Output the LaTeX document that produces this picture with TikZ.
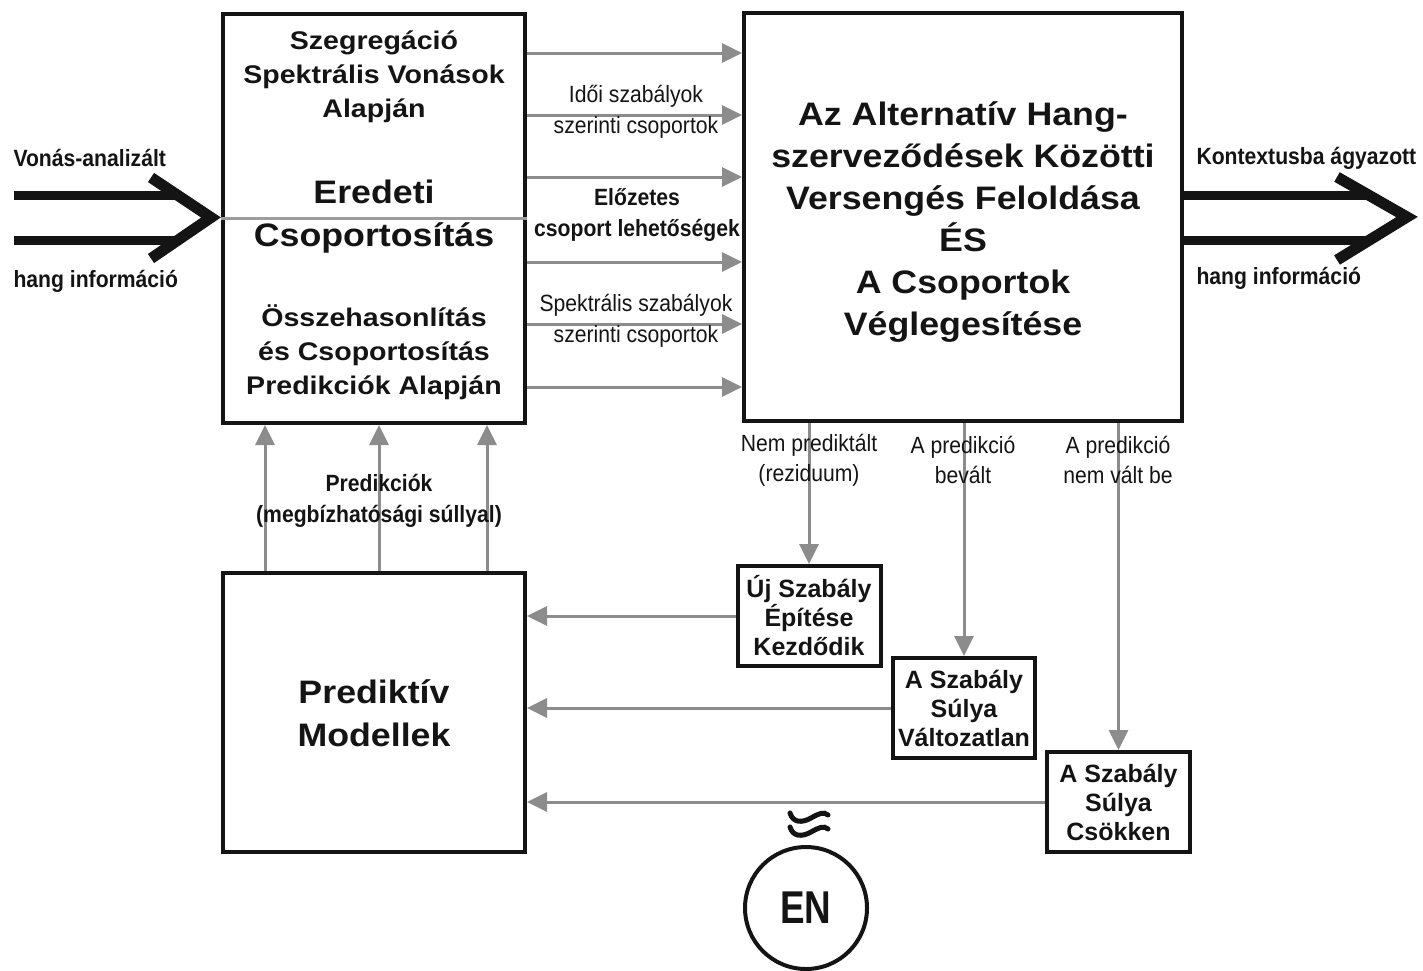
\documentclass[tikz,border=0pt]{standalone}
\usepackage{fontspec}
\setmainfont{Liberation Sans}
\newfontfamily\widesans[FakeStretch=1.1]{Liberation Sans}
\newfontfamily\midsans[FakeStretch=1.12]{Liberation Sans}
\newfontfamily\narrowsans[FakeStretch=0.9]{Liberation Sans}
\newfontfamily\ensans[FakeStretch=0.8]{Liberation Sans}
\usetikzlibrary{arrows.meta,calc}
\definecolor{ink}{HTML}{141414}
\definecolor{arrgray}{HTML}{8C8C8C}
\tikzset{
  blk/.style={draw=ink, line width=4pt, inner sep=0pt},
  garrow/.style={draw=arrgray, line width=3pt, -{Triangle[length=20pt,width=19pt]}},
  gline/.style={draw=arrgray, line width=3pt},
  fatline/.style={draw=ink, line width=9pt},
  chevron/.style={draw=ink, line width=11pt, line join=miter},
  wavestroke/.style={draw=ink, line width=5pt, line cap=round},
  bigtxt/.style={font={\widesans\bfseries\fontsize{32.5}{42}\selectfont}, align=center, text=ink},
  midtxt/.style={font={\midsans\bfseries\fontsize{25.5}{34}\selectfont}, align=center, text=ink},
  boxtxt/.style={font={\bfseries\fontsize{25}{29}\selectfont}, align=center, text=ink},
  lbl/.style={font={\narrowsans\fontsize{23.5}{31}\selectfont}, align=center, text=ink},
  blbl/.style={font={\narrowsans\bfseries\fontsize{23.5}{31}\selectfont}, align=center, text=ink},
}
\begin{document}
\begin{tikzpicture}[x=1pt, y=-1pt]
\useasboundingbox (0,0) rectangle (1423,970);

% main blocks
\node[blk, minimum width=302pt, minimum height=409pt] (grp) at (374,218.5) {};
\node[blk, minimum width=438pt, minimum height=408pt] (res) at (963,217) {};
\node[blk, minimum width=302pt, minimum height=279pt] (pm) at (374,712.5) {};

% rule outcome boxes
\node[blk, boxtxt, minimum width=143pt, minimum height=100pt] (b1) at (809,616) {Új Szabály\\Építése\\Kezdődik};
\node[blk, boxtxt, minimum width=142pt, minimum height=100pt] (b2) at (964,708) {A Szabály\\Súlya\\Változatlan};
\node[blk, boxtxt, minimum width=143pt, minimum height=100pt] (b3) at (1118.5,802) {A Szabály\\Súlya\\Csökken};

% texts of the blocks
\draw[gline, draw=arrgray!85] (grp.west) -- (grp.east);
\node[midtxt] (segr) at (374,77) {Szegregáció\\Spektrális Vonások\\Alapján};
\node[bigtxt, font={\widesans\bfseries\fontsize{32.5}{43}\selectfont}] (orig) at (374,217) {Eredeti\\Csoportosítás};
\node[midtxt] (comp) at (374,352) {Összehasonlítás\\és Csoportosítás\\Predikciók Alapján};
\node[bigtxt] (restxt) at (963,222) {Az Alternatív Hang-\\szerveződések Közötti\\Versengés Feloldása\\ÉS\\A Csoportok\\Véglegesítése};
\node[bigtxt, font={\widesans\bfseries\fontsize{32.5}{43}\selectfont}] (pmtxt) at (374,713) {Prediktív\\Modellek};

% grouping streams from left block to right block
\foreach \yy in {53,115,177,262,324,387}
  \draw[garrow] (grp.east |- 0,\yy) -- (res.west |- 0,\yy);
\node[lbl] (tl) at (636,111.5) {Idői szabályok\\szerinti csoportok};
\node[blbl] (pre) at (637,215) {Előzetes\\csoport lehetőségek};
\node[lbl] (sl) at (636,320.5) {Spektrális szabályok\\szerinti csoportok};

% predictions feeding the grouping block
\foreach \xx in {265,379,487}
  \draw[garrow] (pm.north -| \xx,0) -- (grp.south -| \xx,0);
\node[blbl] (predl) at (379,501) {Predikciók\\(megbízhatósági súllyal)};

% outcomes of the competition
\draw[garrow] (res.south -| b1.north) -- (b1.north);
\draw[garrow] (res.south -| b2.north) -- (b2.north);
\draw[garrow] (res.south -| b3.north) -- (b3.north);
\node[lbl, font={\narrowsans\fontsize{23.5}{30}\selectfont}] (o1) at (809,460) {Nem prediktált\\(reziduum)};
\node[lbl, font={\narrowsans\fontsize{23.5}{30}\selectfont}] (o2) at (963,460) {A predikció\\bevált};
\node[lbl, font={\narrowsans\fontsize{23.5}{30}\selectfont}] (o3) at (1118,460) {A predikció\\nem vált be};

% feedback to the predictive models
\draw[garrow] (b1.west) -- (b1.west -| pm.east);
\draw[garrow] (b2.west) -- (b2.west -| pm.east);
\draw[garrow] (b3.west) -- (b3.west -| pm.east);

% input arrow
\coordinate (inA) at (14,195);
\coordinate (inB) at (14,240);
\coordinate (intip) at ($(grp.west)+(-10,-1)$);
\draw[fatline] (inA) -- (179,195);
\draw[fatline] (inB) -- (179,240);
\draw[chevron] ($(intip)+(-60,-40)$) -- (intip) -- ($(intip)+(-60,41)$);
\node[blbl, anchor=west] (inl1) at (10,158) {Vonás-analizált};
\node[blbl, anchor=west] (inl2) at (10,281) {hang információ};

% output arrow
\coordinate (outtip) at (1407,217);
\draw[fatline] (res.east |- 0,195) -- (1369,195);
\draw[fatline] (res.east |- 0,240) -- (1369,240);
\draw[chevron] ($(outtip)+(-70,-40)$) -- (outtip) -- ($(outtip)+(-70,43)$);
\node[blbl, anchor=west] (outl1) at (1193,158) {Kontextusba ágyazott};
\node[blbl, anchor=west] (outl2) at (1193,278) {hang információ};

% EN symbol with its wave mark
\node[draw=ink, line width=4pt, circle, minimum size=122pt, inner sep=0pt,
      font={\ensans\bfseries\fontsize{46}{46}\selectfont}, text=ink] (en) at (806,908) {EN};
\foreach \wy in {817,831}
  \draw[wavestroke] (790,\wy-4) .. controls (793,\wy+6) and (802,\wy+6) .. (811,\wy+1)
        .. controls (818,\wy-3) and (824,\wy-6) .. (828,\wy-2);
\end{tikzpicture}
\end{document}
